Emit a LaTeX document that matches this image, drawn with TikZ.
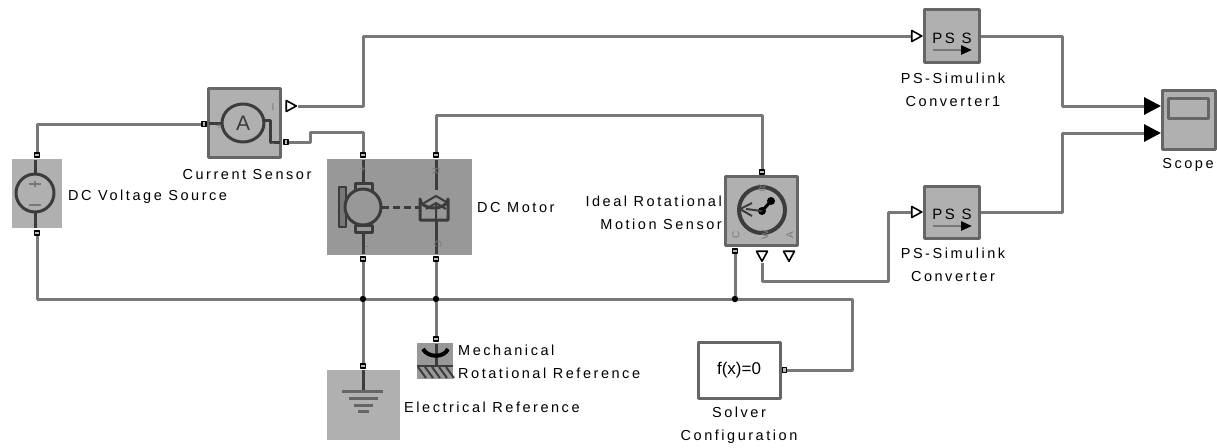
\documentclass[tikz,border=0pt]{standalone}
\usepackage{fontspec}
\setmainfont[LetterSpace=17.5]{Liberation Sans}
\newfontfamily\tightfont{Liberation Sans}
\usepackage{xcolor}
\usetikzlibrary{arrows.meta,shapes.geometric}
\definecolor{wiregray}{HTML}{787878}
\definecolor{blockgray}{HTML}{B0B0B0}
\definecolor{motorgray}{HTML}{989898}
\definecolor{inkgray}{HTML}{3C3C3C}

\begin{document}
\begin{tikzpicture}[
  x=1pt, y=-1pt,
  line join=round,
  wire/.style={draw=wiregray, line width=3pt},
  blockbox/.style={draw=wiregray!85!black, line width=3pt, fill=blockgray, inner sep=0pt},
  flatbox/.style={fill=blockgray, inner sep=0pt},
  portbox/.style={draw=black, line width=1.5pt, fill=wiregray!50, inner sep=0pt, minimum width=5pt, minimum height=4pt},
  sigport/.style={isosceles triangle, isosceles triangle stretches, draw=black, line width=1.6pt, fill=white, inner sep=0pt, minimum width=11pt, minimum height=10pt},
  dotnode/.style={circle, fill=black, inner sep=0pt, minimum size=6.5pt},
  label/.style={inner sep=0pt, align=center, font=\fontsize{14.5}{23}\selectfont},
  tiny/.style={inner sep=0pt, text=wiregray, font=\tightfont\fontsize{10}{10}\selectfont},
  icon/.style={draw=inkgray, line width=3pt},
  bigarrow/.style={wire, -{Triangle[length=17pt,width=17pt,color=black]}}
]
\useasboundingbox (0,0) rectangle (1217,447);

% blocks
\node[flatbox, minimum width=50pt, minimum height=69pt] (source) at (37,193.5) {};
\node[blockbox, minimum width=72pt, minimum height=69pt] (current) at (244.5,123) {};
\node[flatbox, fill=motorgray, minimum width=145pt, minimum height=96pt] (motor) at (399.5,207) {};
\node[blockbox, minimum width=72pt, minimum height=69pt] (motion) at (761.5,211) {};
\node[blockbox, minimum width=55pt, minimum height=53pt] (convone) at (952,36) {};
\node[blockbox, minimum width=55pt, minimum height=52pt] (convtwo) at (952,212) {};
\node[blockbox, minimum width=53pt, minimum height=59pt] (scope) at (1188.5,119.5) {};
\node[flatbox, minimum width=73pt, minimum height=70pt] (elecref) at (363.5,405) {};
\node[flatbox, fill=motorgray, minimum width=36pt, minimum height=36pt] (mechref) at (435,361) {};
\node[blockbox, fill=white, minimum width=82pt, minimum height=56pt, font=\tightfont\fontsize{17}{17}\selectfont] (solver) at (739,370) {f(x)=0};

% ports
\node[portbox] (sourcetop) at (37,155) {};
\node[portbox] (sourcebot) at (37,233) {};
\node[portbox, minimum width=4pt, minimum height=5pt] (currentin) at (204,124) {};
\node[portbox, minimum width=4pt, minimum height=5pt] (currentout) at (286,142) {};
\node[portbox] (motortopl) at (363,155) {};
\node[portbox] (motortopr) at (436,155) {};
\node[portbox] (motorbotl) at (363,259) {};
\node[portbox] (motorbotr) at (436,259) {};
\node[portbox] (motiontop) at (762,172) {};
\node[portbox] (motionc) at (735,251) {};
\node[portbox] (elecin) at (363,366) {};
\node[portbox] (mechin) at (436,339) {};
\node[portbox, minimum width=4pt, minimum height=5pt] (solverout) at (784.5,370) {};
\node[sigport] (currentsig) at (289.5,106) {};
\node[sigport] (convonein) at (915,36) {};
\node[sigport] (convtwoin) at (915,212) {};
\node[sigport, shape border rotate=-90] (motionr) at (762,254.5) {};
\node[sigport, shape border rotate=-90] (motiona) at (789,254.5) {};

% junctions and bends
\node[dotnode] (junca) at (363,299) {};
\node[dotnode] (juncb) at (436,299) {};
\node[dotnode] (juncc) at (735,299) {};
\coordinate (busleft) at (37,299);
\coordinate (busright) at (852,299);
\coordinate (topa) at (363,36);
\coordinate (topb) at (436,115);
\coordinate (stepa) at (310,142);
\coordinate (stepb) at (310,132);
\coordinate (lowa) at (762,281);
\coordinate (lowb) at (888,281);
\coordinate (scopea) at (1161,106);
\coordinate (scopeb) at (1161,133);
\coordinate (midx) at (1062,120);
\coordinate (sourceup) at (37,124);

% wires
\draw[wire] (sourcetop) -- (sourceup) -- (currentin);
\draw[wire] (currentsig.apex) -- (topa |- currentsig.apex) -- (topa) -- (convonein);
\draw[wire] (currentout) -- (stepa) -- (stepb) -- (stepb -| motortopl) -- (motortopl);
\draw[wire] (motortopr) -- (topb) -- (topb -| motiontop) -- (motiontop);
\draw[wire] (sourcebot) -- (busleft) -- (junca) -- (juncb) -- (juncc) -- (busright) -- (busright |- solverout) -- (solverout);
\draw[wire] (motorbotl) -- (junca) -- (elecin);
\draw[wire] (motorbotr) -- (juncb) -- (mechin);
\draw[wire] (motionc) -- (juncc);
\draw[wire] (motionr.apex) -- (lowa) -- (lowb) -- (lowb |- convtwoin) -- (convtwoin);
\draw[bigarrow] (convone.east) -- (midx |- convone.east) -- (midx |- scopea) -- (scopea);
\draw[bigarrow] (convtwo.east) -- (midx |- convtwo.east) -- (midx |- scopeb) -- (scopeb);

% source icon
\draw[icon] (35,160) -- (35,174) (35,212) -- (35,228);
\draw[icon, fill=blockgray] (35,193) circle (19);
\draw[wiregray, line width=2.5pt] (29,184) -- (41,184) (35,181) -- (35,187) (29,205) -- (41,205);
% current sensor icon
\draw[icon] (209,123) -- (222,123) (264,120) -- (270,120) -- (270,142) -- (280,142);
\draw[icon] (243,123) ellipse (21 and 19);
\node[inner sep=0pt, text=inkgray, font=\tightfont\fontsize{21}{21}\selectfont] (currenta) at (243,123) {A};
\node[tiny] (currentplus) at (219,127) {+};
\node[tiny] (currentminus) at (273,145) {-};
\node[tiny] (currenti) at (273,107) {I};
% motor icon
\draw[icon] (363,160) -- (363,183) (363,232) -- (363,254) (436,160) -- (436,190) (436,220) -- (436,254);
\draw[icon, fill=motorgray] (355,183) rectangle (372,190) (355,225) rectangle (372,232);
\draw[inkgray, fill=wiregray, line width=2pt] (339,187) rectangle (346,227);
\draw[icon, fill=motorgray] (363,207) circle (18);
\draw[icon, dash pattern=on 7pt off 4pt] (382,207) -- (420,207);
\draw[icon, fill=motorgray] (420,220) -- (420,199) arc (180:0:14 and 9) -- (448,220) -- cycle;
\draw[icon, line width=2pt] (424,203) -- (436,196) -- (448,203) (426,209) -- (436,203) -- (446,209) (436,203) -- (436,220);
\node[tiny] (motorplus) at (363,170) {+};
\node[tiny] (motorminus) at (367,248) {-};
\node[tiny, rotate=-90] (motorr) at (436,171) {R};
\node[tiny, rotate=-90] (motorc) at (438,244) {C};
% motion sensor icon
\draw[icon, line width=4pt] (762,210) circle (23);
\draw[black, line width=3pt] (762,211) -- (771,201);
\fill[black] (762,211) circle (4) (771,201) circle (4);
\draw[icon, line width=2pt] (762,211) -- (746,209) (752,203) -- (740,209) -- (752,216);
\node[tiny, rotate=180] (motionlabr) at (762,188) {R};
\node[tiny, rotate=90] (motionlabc) at (736,235) {C};
\node[tiny, rotate=90] (motionlabw) at (765,235) {W};
\node[tiny, rotate=90] (motionlaba) at (790,235) {A};
% converter icons
\node[inner sep=0pt, font=\fontsize{15}{15}\selectfont] (convonetxt) at (952,38) {PS S};
\draw[wiregray, line width=2.5pt, -{Triangle[length=11pt,width=9pt,color=black]}] (933,50) -- (972,50);
\node[inner sep=0pt, font=\fontsize{15}{15}\selectfont] (convtwotxt) at (952,214) {PS S};
\draw[wiregray, line width=2.5pt, -{Triangle[length=11pt,width=9pt,color=black]}] (933,226) -- (972,226);
% scope icon
\draw[icon, draw=wiregray!85!black] (1168,98) rectangle (1208,118);
% reference icons
\draw[icon] (363,370) -- (363,391);
\draw[wiregray!85!black, line width=3pt] (342,391) -- (383,391) (349,398) -- (378,398) (354,405) -- (373,405) (358,411) -- (369,411);
\draw[icon] (436,344) -- (436,366);
\draw[black, line width=4pt] (423,349) .. controls (428,358) and (444,358) .. (448,349);
\draw[inkgray, line width=2.5pt] (417,366) -- (453,366);
\foreach \hx in {418,425,...,446} {
  \draw[inkgray, line width=2pt] (\hx,367) -- (\hx+8,378);
}

% labels
\node[label, anchor=west] (sourcelab) at (68,197) {DC Voltage Source};
\node[label] (currentlab) at (247,175) {Current Sensor};
\node[label, anchor=west] (motorlab) at (477,208) {DC Motor};
\node[label, anchor=east, align=right] (motionlab) at (722,212.5) {Ideal Rotational\\Motion Sensor};
\node[label] (convonelab) at (953,89.5) {PS-Simulink\\Converter1};
\node[label] (convtwolab) at (953,265) {PS-Simulink\\Converter};
\node[label] (scopelab) at (1188,165) {Scope};
\node[label, anchor=west, align=left] (mechlab) at (458,362) {Mechanical\\Rotational Reference};
\node[label, anchor=west] (eleclab) at (404,407) {Electrical Reference};
\node[label] (solverlab) at (739,425.5) {Solver\\Configuration};
\end{tikzpicture}
\end{document}
